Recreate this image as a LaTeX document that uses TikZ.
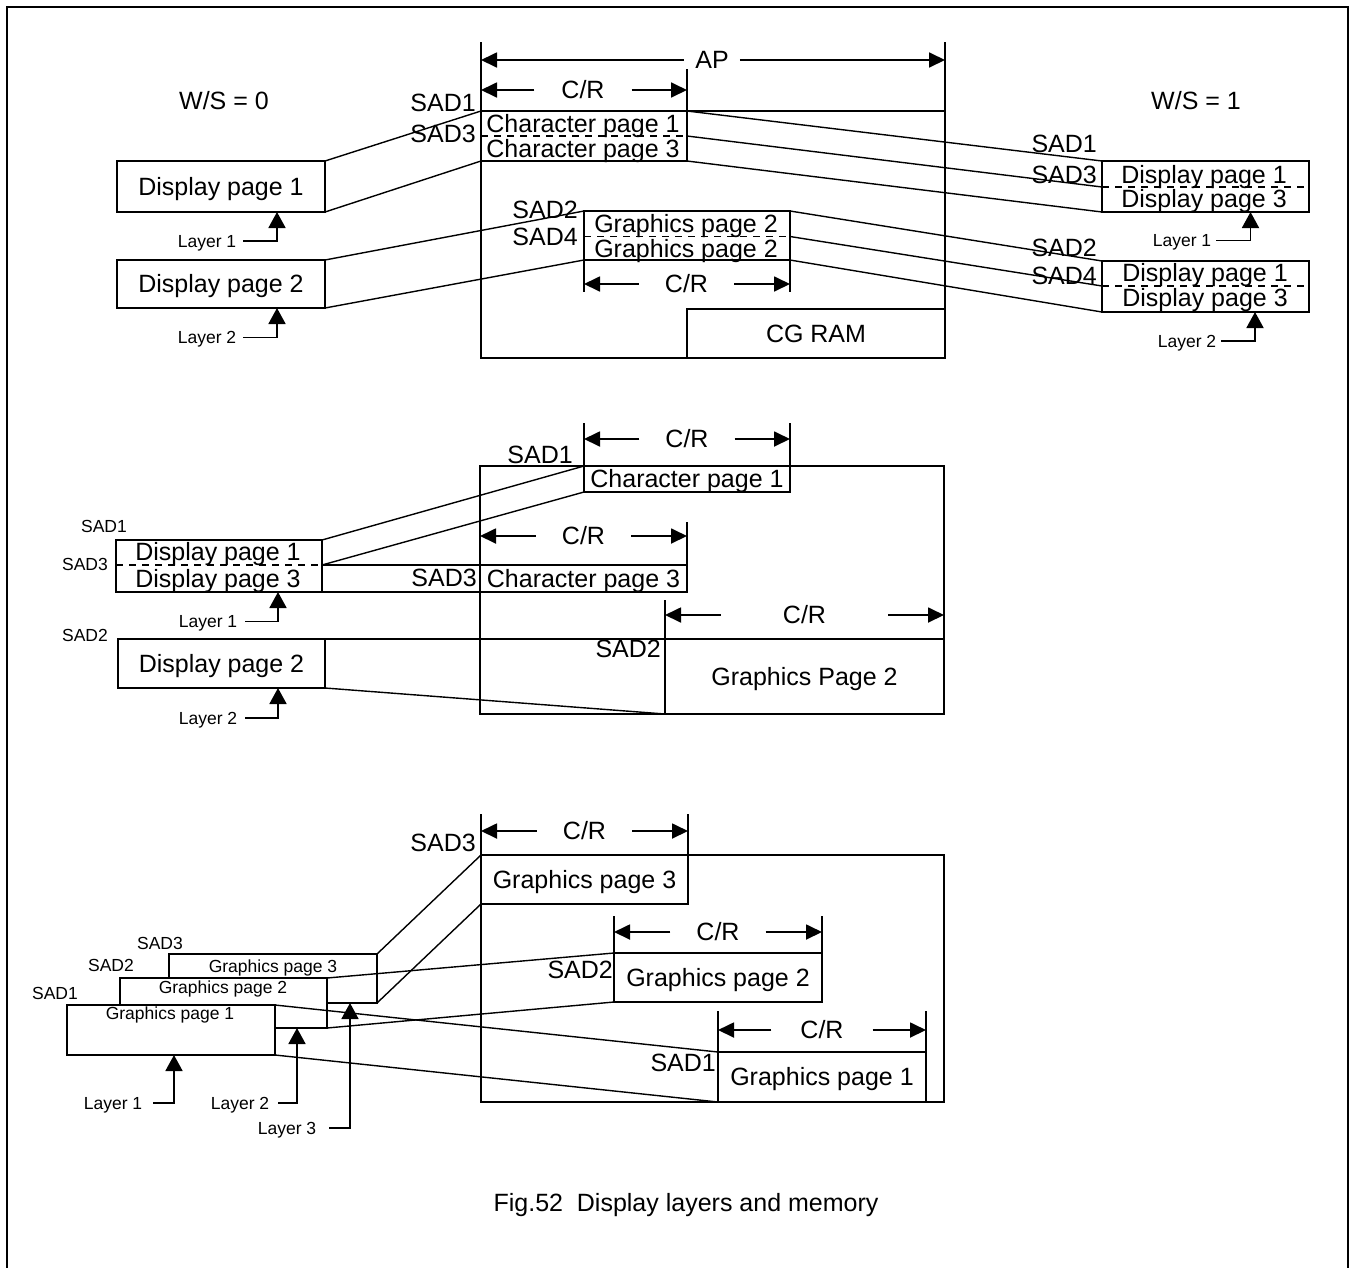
\documentclass[tikz,border=0pt]{standalone}
\usepackage{fontspec}
\setmainfont{Liberation Sans}
\usetikzlibrary{arrows.meta}
\newcommand\boxat[6]{\node[rectbox, minimum width={(#4)-(#2)}, minimum height={(#5)-(#3)}] (#1) at ({((#2)+(#4))/2},{((#3)+(#5))/2}) {#6};}
\begin{document}
\begin{tikzpicture}[x=1pt,y=-1pt,
  bt/.style={font=\fontsize{25}{29}\selectfont, inner sep=0pt, text height=17.9pt, text depth=0pt},
  st/.style={font=\fontsize{17.5}{20}\selectfont, inner sep=0pt, text height=12.5pt, text depth=0pt},
  rectbox/.style={draw, line width=2pt, inner sep=0pt, outer sep=0pt, fill=white,
     font=\fontsize{25}{29}\selectfont, text height=17.9pt, text depth=0pt},
  boxln/.style={line width=2pt},
  conn/.style={line width=1.4pt},
  dashln/.style={line width=1.6pt, dash pattern=on 7pt off 6pt},
  dimlbl/.style={bt, inner xsep=26pt},
  dimarr/.style={line width=1.8pt, -{Triangle[length=16pt,width=15pt]}},
  laylbl/.style={st, inner xsep=8pt},
  layarr/.style={line width=1.8pt, -{Triangle[length=16pt,width=17pt]}}
]
\useasboundingbox (0,0) rectangle (1354,1267);
% frame
\draw[boxln] (7,1270) -- (7,7) -- (1348,7) -- (1348,1270);

% ================= TOP =================
\node[bt] (ws0) at (224,101) {W/S = 0};
\node[bt] (ws1) at (1196,101) {W/S = 1};

\boxat{mem1}{481}{111}{945}{358}{}
\draw[boxln] (mem1.north west) -- ++(0,-69);
\draw[boxln] (mem1.north east) -- ++(0,-69);
\boxat{cp13}{481}{111}{687}{161}{}
\draw[boxln] (cp13.north east) -- ++(0,-42);
\draw[dashln] (481,136) -- (687,136);
\coordinate (cp13m) at (687,136);
\node[bt] (cp1t) at (583,124) {Character page 1};
\node[bt] (cp3t) at (583,148.5) {Character page 3};

\node[dimlbl, inner xsep=11pt] (ap) at (712,60) {AP};
\draw[dimarr] (ap.west) -- (ap.west -| mem1.west);
\draw[dimarr] (ap.east) -- (ap.east -| mem1.east);
\node[dimlbl, inner xsep=27pt] (cr1) at (583,90) {C/R};
\draw[dimarr] (cr1.west) -- (cr1.west -| cp13.west);
\draw[dimarr] (cr1.east) -- (cr1.east -| cp13.east);

\node[bt, anchor=east] (sad1a) at (476,103) {SAD1};
\node[bt, anchor=east] (sad3a) at (476,134) {SAD3};

\boxat{gp22}{584}{211}{790}{260}{}
\draw[dashln] (584,236.5) -- (790,236.5);
\coordinate (gp22m) at (790,236.5);
\node[bt] (gp2t) at (686,223.5) {Graphics page 2};
\node[bt] (gp2bt) at (686,248.5) {Graphics page 2};
\draw[boxln] (gp22.south west) -- ++(0,32);
\draw[boxln] (gp22.south east) -- ++(0,32);
\node[dimlbl] (cr2) at (686.5,284) {C/R};
\draw[dimarr] (cr2.west) -- (cr2.west -| gp22.west);
\draw[dimarr] (cr2.east) -- (cr2.east -| gp22.east);
\node[bt, anchor=east] (sad2a) at (578,210) {SAD2};
\node[bt, anchor=east] (sad4a) at (578,236.5) {SAD4};

\boxat{cgram}{687}{309}{945}{358}{CG RAM}

\boxat{dp1}{117}{161}{325}{212}{Display page 1}
\boxat{dp2}{117}{260}{325}{308}{Display page 2}
\node[laylbl, inner xsep=7pt] (lay1a) at (207,241) {Layer 1};
\draw[layarr] (lay1a.east) -| ([xshift=56pt]dp1.south);
\node[laylbl, inner xsep=7pt] (lay2a) at (207,337.5) {Layer 2};
\draw[layarr] (lay2a.east) -| ([xshift=56pt]dp2.south);

\boxat{dpr1}{1102}{161}{1309}{212}{}
\draw[dashln] (1102,187) -- (1309,187);
\coordinate (dpr1m) at (1102,187);
\node[bt] (dpr1t) at (1204,175) {Display page 1};
\node[bt] (dpr3t) at (1204,199) {Display page 3};
\boxat{dpr2}{1102}{261}{1309}{312}{}
\draw[dashln] (1102,286) -- (1309,286);
\coordinate (dpr2m) at (1102,286);
\node[bt] (dpr1u) at (1205,272.5) {Display page 1};
\node[bt] (dpr3u) at (1205,298) {Display page 3};

\node[bt, anchor=east] (sad1b) at (1097,144) {SAD1};
\node[bt, anchor=east] (sad3b) at (1097,175) {SAD3};
\node[bt, anchor=east] (sad2b) at (1097,248) {SAD2};
\node[bt, anchor=east] (sad4b) at (1097,276) {SAD4};

\node[laylbl, inner xsep=5pt] (lay1b) at (1182,240.5) {Layer 1};
\draw[layarr] (lay1b.east) -| ([xshift=45pt]dpr1.south);
\node[laylbl, inner xsep=5pt] (lay2b) at (1187,341) {Layer 2};
\draw[layarr] (lay2b.east) -| ([xshift=49.5pt]dpr2.south);

% connectors top
\draw[conn] (dp1.north east) -- (cp13.north west);
\draw[conn] (dp1.south east) -- (cp13.south west);
\draw[conn] (dp2.north east) -- (gp22.north west);
\draw[conn] (dp2.south east) -- (gp22.south west);
\draw[conn] (cp13.north east) -- (dpr1.north west);
\draw[conn] (cp13m) -- (dpr1m);
\draw[conn] (cp13.south east) -- (dpr1.south west);
\draw[conn] (gp22.north east) -- (dpr2.north west);
\draw[conn] (gp22m) -- (dpr2m);
\draw[conn] (gp22.south east) -- (dpr2.south west);

% ================= MIDDLE =================
\boxat{mem2}{480}{466}{944}{714}{}
\boxat{cpa}{584}{466}{790}{492}{Character page 1}
\draw[boxln] (cpa.north west) -- ++(0,-43);
\draw[boxln] (cpa.north east) -- ++(0,-43);
\node[dimlbl] (cr3) at (687,439) {C/R};
\draw[dimarr] (cr3.west) -- (cr3.west -| cpa.west);
\draw[dimarr] (cr3.east) -- (cr3.east -| cpa.east);
\node[bt, anchor=east] (sad1c) at (573,455) {SAD1};

\boxat{cpb}{480}{565}{687}{592}{Character page 3}
\draw[boxln] (cpb.north east) -- ++(0,-43);
\node[dimlbl] (cr4) at (583.5,536) {C/R};
\draw[dimarr] (cr4.west) -- (cr4.west -| cpb.west);
\draw[dimarr] (cr4.east) -- (cr4.east -| cpb.east);
\node[bt, anchor=east] (sad3c) at (477,578) {SAD3};

\boxat{dpm}{116}{540}{322}{592}{}
\draw[dashln] (116,565) -- (322,565);
\coordinate (dpmm) at (322,565);
\node[bt] (dpm1t) at (218,552) {Display page 1};
\node[bt] (dpm3t) at (218,578.5) {Display page 3};
\draw[boxln] (dpmm) -- (cpb.north west);
\draw[boxln] (dpm.south east) -- (cpb.south west);
\node[st] (sad1s) at (104,526) {SAD1};
\node[st, anchor=east] (sad3s) at (108,564) {SAD3};
\node[st, anchor=east] (sad2s) at (108,635) {SAD2};

\boxat{gpm}{665}{639}{944}{714}{Graphics Page 2}
\draw[boxln] (gpm.north west) -- ++(0,-39);
\node[dimlbl, inner xsep=62pt] (cr5) at (804.5,615) {C/R};
\draw[dimarr] (cr5.west) -- (cr5.west -| gpm.west);
\draw[dimarr] (cr5.east) -- (cr5.east -| gpm.east);
\node[bt, anchor=east] (sad2c) at (661,649) {SAD2};

\boxat{dpm2}{118}{639}{325}{688}{Display page 2}
\draw[boxln] (dpm2.north east) -- (gpm.north west);

\node[laylbl] (lay1c) at (208,621.5) {Layer 1};
\draw[layarr] (lay1c.east) -| ([xshift=59pt]dpm.south);
\node[laylbl] (lay2c) at (208,718) {Layer 2};
\draw[layarr] (lay2c.east) -| ([xshift=56.5pt]dpm2.south);

\draw[conn] (dpm.north east) -- (cpa.north west);
\draw[conn] (dpmm) -- (cpa.south west);
\draw[conn] (dpm2.south east) -- (gpm.south west);

% ================= BOTTOM =================
\boxat{mem3}{481}{855}{944}{1102}{}
\boxat{gb3}{481}{855}{688}{904}{Graphics page 3}
\draw[boxln] (gb3.north west) -- ++(0,-41);
\draw[boxln] (gb3.north east) -- ++(0,-41);
\node[dimlbl] (cr6) at (584.5,831) {C/R};
\draw[dimarr] (cr6.west) -- (cr6.west -| gb3.west);
\draw[dimarr] (cr6.east) -- (cr6.east -| gb3.east);
\node[bt, anchor=east] (sad3d) at (476,843) {SAD3};

\boxat{gb2}{614}{953}{822}{1002}{Graphics page 2}
\draw[boxln] (gb2.north west) -- ++(0,-37);
\draw[boxln] (gb2.north east) -- ++(0,-37);
\node[dimlbl] (cr7) at (718,932) {C/R};
\draw[dimarr] (cr7.west) -- (cr7.west -| gb2.west);
\draw[dimarr] (cr7.east) -- (cr7.east -| gb2.east);
\node[bt, anchor=east] (sad2d) at (613,970) {SAD2};

\boxat{gb1}{718}{1052}{926}{1102}{Graphics page 1}
\draw[boxln] (gb1.north west) -- ++(0,-41);
\draw[boxln] (gb1.north east) -- ++(0,-41);
\node[dimlbl, inner xsep=29pt] (cr8) at (822,1030) {C/R};
\draw[dimarr] (cr8.west) -- (cr8.west -| gb1.west);
\draw[dimarr] (cr8.east) -- (cr8.east -| gb1.east);
\node[bt, anchor=east] (sad1d) at (716,1063) {SAD1};

\boxat{gl3}{169}{954}{377}{1003}{}
\node[st] (gl3t) at (273,966) {Graphics page 3};
\boxat{gl2}{120}{978}{327}{1028}{}
\node[st] (gl2t) at (223,987) {Graphics page 2};
\boxat{gl1}{67}{1005}{275}{1055}{}
\node[st] (gl1t) at (170,1013) {Graphics page 1};
\node[st] (sad3e) at (160,943) {SAD3};
\node[st] (sad2e) at (111,965) {SAD2};
\node[st] (sad1e) at (55,993) {SAD1};

\node[laylbl, inner xsep=11pt] (lay1d) at (113,1103) {Layer 1};
\draw[layarr] (lay1d.east) -| ([xshift=3pt]gl1.south);
\node[laylbl, inner xsep=9pt] (lay2d) at (240,1103) {Layer 2};
\draw[layarr] (lay2d.east) -| ([xshift=73.5pt]gl2.south);
\node[laylbl, inner xsep=13pt] (lay3d) at (287,1128) {Layer 3};
\draw[layarr] (lay3d.east) -| ([xshift=77pt]gl3.south);

\draw[conn] (gl3.north east) -- (gb3.north west);
\draw[conn] (gl3.south east) -- (gb3.south west);
\draw[conn] (gl2.north east) -- (gb2.north west);
\draw[conn] (gl2.south east) -- (gb2.south west);
\draw[conn] (gl1.north east) -- (gb1.north west);
\draw[conn] (gl1.south east) -- (gb1.south west);

% caption
\node[font=\fontsize{25}{30}\selectfont, inner sep=0pt, text height=17.9pt, text depth=0pt] (cap) at (686,1203) {Fig.52~~Display layers and memory};
\end{tikzpicture}
\end{document}
